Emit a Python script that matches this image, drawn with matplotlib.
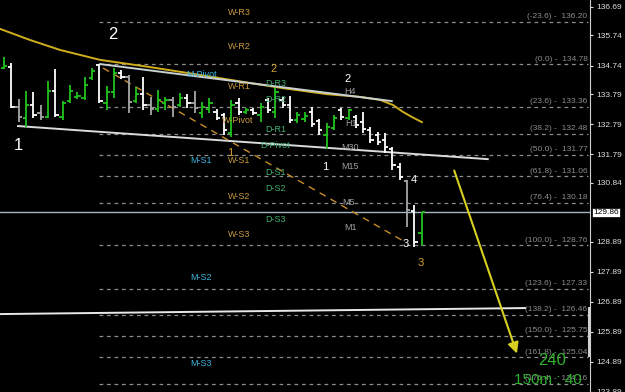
import matplotlib
matplotlib.use('Agg')
import matplotlib.pyplot as plt
import matplotlib.transforms as mtransforms

plt.rcParams['font.family'] = ['Liberation Sans', 'DejaVu Sans']

# OHLC bars (price), colour per bar: g = up, w = down, s = grey
highs = [135.03, 134.83, 133.63, 133.89, 133.86, 133.43, 134.23, 134.63, 133.56, 134.09,
         133.86, 134.36, 134.66, 134.79, 134.06, 134.66, 134.59, 134.43, 134.03, 134.36,
         133.69, 133.93, 133.69, 133.69, 133.83, 133.79, 133.89, 133.53, 133.66, 133.29,
         133.16, 133.59, 133.66, 133.33, 133.33, 133.49, 133.66, 133.99, 133.69, 133.73,
         133.19, 133.19, 133.36, 132.96, 132.83, 133.09, 133.33, 133.29, 133.09, 133.19,
         132.69, 132.53, 132.49, 132.03, 131.50, 130.93, 130.10, 129.87]
lows = [134.63, 133.33, 132.86, 132.69, 133.00, 132.93, 132.99, 133.03, 132.93, 133.49,
        133.63, 133.59, 134.26, 133.49, 133.26, 133.66, 134.29, 133.16, 133.49, 133.26,
        133.09, 133.19, 133.26, 133.03, 133.36, 133.33, 133.16, 132.99, 133.16, 132.93,
        132.43, 132.36, 133.09, 133.13, 133.09, 132.86, 133.16, 132.99, 133.33, 132.83,
        132.83, 132.86, 132.69, 132.43, 131.96, 132.59, 132.93, 132.93, 132.66, 132.49,
        132.16, 132.10, 131.83, 131.26, 130.93, 129.37, 128.70, 128.74]
opens = [134.66, 134.69, 133.36, 132.99, 133.43, 133.16, 133.03, 133.89, 133.03, 133.56,
         133.69, 133.66, 134.33, 134.76, 133.49, 133.86, 134.50, 134.36, 133.56, 133.79,
         133.43, 133.29, 133.49, 133.59, 133.43, 133.66, 133.49, 133.16, 133.29, 133.19,
         133.09, 132.49, 133.49, 133.19, 133.26, 133.09, 133.59, 133.19, 133.59, 133.43,
         132.93, 132.96, 133.19, 132.89, 132.43, 132.66, 133.26, 132.99, 133.03, 132.86,
         132.59, 132.43, 132.26, 131.96, 131.36, 130.90, 129.90, 129.17]
closes = [134.73, 133.36, 133.03, 133.43, 133.09, 133.03, 133.89, 133.09, 133.49, 133.89,
          133.73, 134.09, 134.56, 133.56, 133.86, 134.50, 134.36, 133.53, 133.79, 133.43,
          133.29, 133.59, 133.59, 133.36, 133.66, 133.49, 133.33, 133.36, 133.49, 132.99,
          132.59, 133.43, 133.19, 133.26, 133.16, 133.36, 133.26, 133.86, 133.43, 132.93,
          133.09, 133.06, 132.79, 132.59, 132.69, 132.99, 133.03, 133.26, 132.76, 132.63,
          132.26, 132.20, 132.03, 131.43, 131.03, 129.93, 128.86, 129.86]
kinds = 'gwsgwsgwgg' + 'gggwggwsgw' + 'sggsgwsggw' + 'wgwgwgwgww' + 'ggwwggwgww' + 'wwwwwswg'

# fibonacci retracement
fib_pct = ['-23.6', '0.0', '23.6', '38.2', '50.0', '61.8', '76.4', '100.0',
           '123.6', '138.2', '150.0', '161.8', '176.4']
fib_price = [136.20, 134.78, 133.36, 132.48, 131.77, 131.06, 130.18, 128.76,
             127.33, 126.46, 125.75, 125.04, 124.16]

# pivot labels: (text, bar position, price)
w_pivots = [('W-R3', 30.6, 136.52), ('W-R2', 30.6, 135.39), ('W-R1', 30.6, 134.06),
            ('W-Pivot', 29.7, 132.93), ('W-S1', 30.6, 131.57), ('W-S2', 30.6, 130.40),
            ('W-S3', 30.6, 129.11)]
d_pivots = [('D-R3', 35.6, 134.13), ('D-R2', 35.6, 133.60), ('D-R1', 35.6, 132.63),
            ('D-Pivot', 34.9, 132.10), ('D-S1', 35.6, 131.17), ('D-S2', 35.6, 130.64),
            ('D-S3', 35.6, 129.64)]
m_pivots = [('M-Pivot', 24.8, 134.43), ('M-S1', 25.4, 131.57), ('M-S2', 25.4, 127.71),
            ('M-S3', 25.4, 124.85)]
tf_labels = [('H4', 46.4, 133.89), ('H1', 46.5, 132.80), ('M30', 46.0, 132.03),
             ('M15', 46.0, 131.37), ('M5', 46.1, 130.20), ('M1', 46.4, 129.37)]

# lines (bar position, price)
ma_x = [-0.55, 3.55, 7.64, 13.1, 19.92, 26.74, 33.56, 38.06, 44.07, 48.57, 51.3, 53.07, 54.43, 55.66, 57.02]
ma_y = [135.96, 135.59, 135.26, 134.93, 134.69, 134.43, 134.16, 133.99, 133.79, 133.70, 133.60, 133.43, 133.20, 133.03, 132.86]
upper_x, upper_y = [13.1, 52.9], [134.79, 133.56]
lower_x, lower_y = [1.9, 66.0], [132.73, 131.63]
flat_x, flat_y = [-0.55, 71.1], [126.48, 126.68]
wave_x, wave_y = [13.5, 54.7], [134.66, 128.88]
arrow_from, arrow_to = (61.3, 131.34), (70.1, 125.08)
last_price = 129.86

yticks = [136.69, 135.74, 134.74, 133.79, 132.79, 131.79, 130.84,
          128.89, 127.89, 126.89, 125.89, 124.89, 123.89]

colors = {'g': '#22c41e', 'w': '#ffffff', 's': '#a8a8a8'}

fig = plt.figure(figsize=(6.25, 3.92), dpi=100, facecolor='black')
ax = fig.add_axes([0, 0, 590 / 625, 1])
ax.set_facecolor('black')
ax.set_xlim(-0.55, 79.95)
ax.set_ylim(123.89, 136.92)

# fib levels
for pct, pr in zip(fib_pct, fib_price):
  ax.plot([13.0, 79.7], [pr, pr], color='#8c8c8c', lw=0.9, ls=(0, (3, 3)))
  ax.annotate('(%s) -  %.2f' % (pct, pr), (79.6, pr), xytext=(0, 3.8),
              textcoords='offset points', ha='right', va='center',
              fontsize=6, color='#8c8c8c')

ax.axhline(last_price, color='#a8b4c4', lw=1)

ax.plot(ma_x, ma_y, color='#cfae1e', lw=1.4)
ax.plot(upper_x, upper_y, color='#c8d0d0', lw=1.4)
ax.plot(lower_x, lower_y, color='#d8dcdc', lw=1.4)
ax.plot(flat_x, flat_y, color='#e8e8e8', lw=1.4)
ax.plot(wave_x, wave_y, color='#c88c28', lw=1, ls=(0, (5, 4)))

# bars
for i in range(len(highs)):
  c = colors[kinds[i]]
  ax.vlines(i, lows[i], highs[i], color=c, lw=1.3)
  ax.hlines(opens[i], i - 0.45, i, color=c, lw=1.3)
  ax.hlines(closes[i], i, i + 0.45, color=c, lw=1.3)

ax.annotate('', xy=arrow_to, xytext=arrow_from,
            arrowprops=dict(arrowstyle='-|>', color='#d8d020', lw=1.5, mutation_scale=16))

for t, x, y in w_pivots:
  ax.text(x, y, t, fontsize=6.5, color='#c89a40', va='center')
for t, x, y in d_pivots:
  ax.text(x, y, t, fontsize=6.5, color='#40b070', va='center')
for t, x, y in m_pivots:
  ax.text(x, y, t, fontsize=6.5, color='#3cb4e0', va='center')
for t, x, y in tf_labels:
  ax.text(x, y, t, fontsize=6.5, color='#a0a0a0', va='center')

# wave counts
ax.text(1.9, 132.10, '1', fontsize=12, color='white', ha='center', va='center')
ax.text(14.9, 135.76, '2', fontsize=12, color='white', ha='center', va='center')
ax.text(36.8, 134.63, '2', fontsize=8, color='#d4a030', ha='center', va='center')
ax.text(46.9, 134.29, '2', fontsize=8, color='white', ha='center', va='center')
ax.text(43.8, 131.37, '1', fontsize=8, color='white', ha='center', va='center')
ax.text(30.8, 131.83, '1', fontsize=8, color='#d4a030', ha='center', va='center')
ax.text(55.9, 130.94, '4', fontsize=8, color='white', ha='center', va='center')
ax.text(54.8, 128.81, '3', fontsize=8, color='white', ha='center', va='center')
ax.text(56.9, 128.18, '3', fontsize=8, color='#d4a030', ha='center', va='center')
ax.text(74.8, 124.95, '240', fontsize=12, color='#30b030', ha='center', va='center')
ax.text(74.2, 124.29, '150m : 40', fontsize=11, color='#30b030', ha='center', va='center')

ax.vlines(79.8, 125.05, 126.71, color='#d0d0d0', lw=1.5)

for s in ['left', 'top', 'bottom']:
  ax.spines[s].set_visible(False)
ax.spines['right'].set_color('#d0d0d0')
ax.set_xticks([])
ax.yaxis.tick_right()
ax.set_yticks(yticks)
ax.set_yticklabels(['%.2f' % v for v in yticks])
ax.tick_params(axis='y', colors='#e0e0e0', labelsize=6, length=2.5, pad=2)

trans = mtransforms.blended_transform_factory(ax.transAxes, ax.transData)
ax.text(1.006, last_price, '%.2f' % last_price, transform=trans, fontsize=6,
        color='black', va='center', ha='left',
        bbox=dict(boxstyle='square,pad=0.15', fc='white', ec='black', lw=0.5))

fig.savefig('out.png', dpi=100, facecolor='black')
